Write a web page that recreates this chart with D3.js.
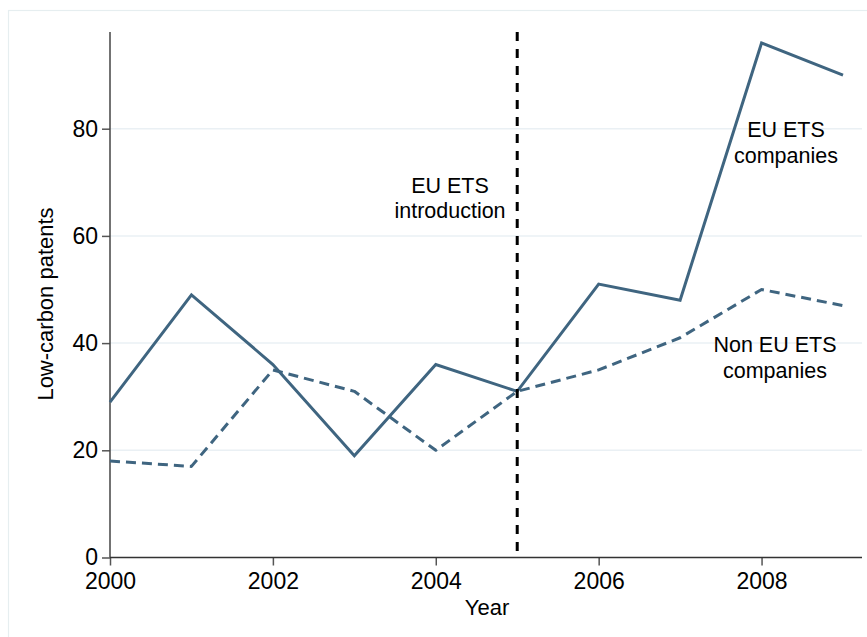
<!DOCTYPE html>
<html>
<head>
<meta charset="utf-8">
<script src="https://cdn.jsdelivr.net/npm/d3@7"></script>
<style>
  html, body { margin: 0; padding: 0; background: #fff; }
  svg { display: block; font-family: "Liberation Sans", Arial, Helvetica, sans-serif; }
</style>
</head>
<body>
<svg id="chart" width="867" height="637"></svg>
<script>
const years = [2000, 2001, 2002, 2003, 2004, 2005, 2006, 2007, 2008, 2009];
const euEts = [29, 49, 36, 19, 36, 31, 51, 48, 96, 90];
const nonEuEts = [18, 17, 35, 31, 20, 31, 35, 41, 50, 47];
const xTicks = [2000, 2002, 2004, 2006, 2008];
const yTicks = [0, 20, 40, 60, 80];
const introYear = 2005;

const svg = d3.select("#chart");
const W = 867, H = 637;
const left = 110, right = 862, plotRightData = 843;
const bottom = 557.5, top80 = 128.7, axisTop = 32;

const x = d3.scaleLinear().domain([2000, 2009]).range([left, plotRightData]);
const y = d3.scaleLinear().domain([0, 80]).range([bottom, top80]);

const lineColor = "#3f6580";

// outer frame
svg.append("rect").attr("x", 8.5).attr("y", 10.5).attr("width", W).attr("height", H)
  .attr("fill", "none").attr("stroke", "#e6eef0").attr("stroke-width", 1.2);

// gridlines
svg.append("g").selectAll("line").data(yTicks.filter(d => d > 0)).join("line")
  .attr("x1", left).attr("x2", right)
  .attr("y1", d => y(d)).attr("y2", d => y(d))
  .attr("stroke", "#eaf0f4").attr("stroke-width", 1.5);

// axes
const yAxis = d3.axisLeft(y).tickValues(yTicks).tickSize(8).tickPadding(4).tickSizeOuter(0);
const gy = svg.append("g").attr("transform", `translate(${left},0)`).call(yAxis);
gy.select(".domain").remove();
gy.selectAll(".tick line").attr("stroke", "#555").attr("stroke-width", 1.5);
gy.selectAll(".tick text").attr("font-size", 23).attr("fill", "#000")
  .attr("font-family", "'Liberation Sans', Arial, sans-serif");

const xAxis = d3.axisBottom(x).tickValues(xTicks).tickFormat(d3.format("d")).tickSize(8).tickPadding(7.5).tickSizeOuter(0);
const gx = svg.append("g").attr("transform", `translate(0,${bottom})`).call(xAxis);
gx.select(".domain").remove();
gx.selectAll(".tick line").attr("stroke", "#555").attr("stroke-width", 1.5);
gx.selectAll(".tick text").attr("font-size", 23).attr("fill", "#000")
  .attr("font-family", "'Liberation Sans', Arial, sans-serif");

// axis lines
svg.append("line").attr("x1", left).attr("x2", left).attr("y1", axisTop).attr("y2", bottom)
  .attr("stroke", "#444").attr("stroke-width", 1.5);
svg.append("line").attr("x1", left).attr("x2", right).attr("y1", bottom).attr("y2", bottom)
  .attr("stroke", "#333").attr("stroke-width", 1.5);

// series
const line = d3.line().x((d, i) => x(years[i])).y(d => y(d));
svg.append("path").datum(nonEuEts).attr("d", line)
  .attr("fill", "none").attr("stroke", lineColor).attr("stroke-width", 3)
  .attr("stroke-dasharray", "10,6").attr("stroke-linejoin", "round");
svg.append("path").datum(euEts).attr("d", line)
  .attr("fill", "none").attr("stroke", lineColor).attr("stroke-width", 3)
  .attr("stroke-linejoin", "miter");

// vertical intro line
svg.append("line").attr("x1", x(introYear)).attr("x2", x(introYear))
  .attr("y1", axisTop).attr("y2", bottom)
  .attr("stroke", "#000").attr("stroke-width", 3).attr("stroke-dasharray", "9,8");

// annotations
function label(lines, cx, y0, dy) {
  const t = svg.append("text").attr("text-anchor", "middle").attr("font-size", 21.5).attr("fill", "#000");
  lines.forEach((s, i) => t.append("tspan").attr("x", cx).attr("y", y0 + i * dy).text(s));
}
label(["EU ETS", "introduction"], 450, 193, 24.5);
label(["EU ETS", "companies"], 786, 137, 26);
label(["Non EU ETS", "companies"], 775, 352, 26);

// axis titles
svg.append("text").attr("text-anchor", "middle").attr("font-size", 22)
  .attr("transform", "translate(53,304) rotate(-90)").text("Low-carbon patents");
svg.append("text").attr("text-anchor", "middle").attr("font-size", 22)
  .attr("x", 487).attr("y", 615).text("Year");
</script>
</body>
</html>
